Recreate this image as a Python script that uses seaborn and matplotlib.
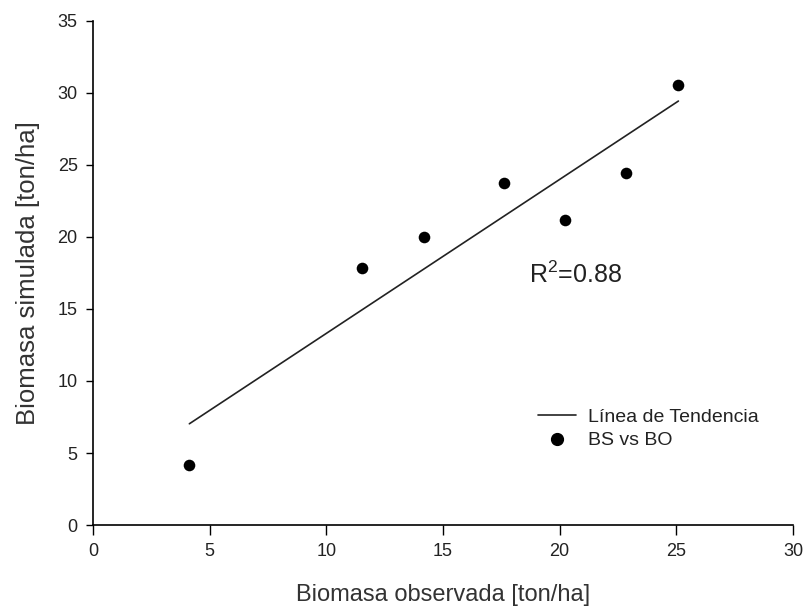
import numpy as np
import pandas as pd
import matplotlib
matplotlib.use("Agg")
import matplotlib.pyplot as plt
from matplotlib.lines import Line2D
import seaborn as sns

# Data
biomasa_observada = [4.13, 11.52, 14.20, 17.62, 20.24, 22.85, 25.09]
biomasa_simulada = [4.15, 17.87, 20.02, 23.73, 21.18, 24.44, 30.56]
r2_text = "R$^2$=0.88"
x_ticks = [0, 5, 10, 15, 20, 25, 30]
y_ticks = [0, 5, 10, 15, 20, 25, 30, 35]

df = pd.DataFrame({"obs": biomasa_observada, "sim": biomasa_simulada})

sns.set_theme(style="ticks")
plt.rcParams["font.family"] = ["Liberation Sans", "DejaVu Sans"]
plt.rcParams["mathtext.fontset"] = "custom"
plt.rcParams["mathtext.rm"] = "Liberation Sans"

fig = plt.figure(figsize=(8.08, 6.08), dpi=100)
ax = fig.add_axes([0.1151, 0.1365, 0.8663, 0.829])

sns.regplot(data=df, x="obs", y="sim", ax=ax, scatter=False, ci=None,
            truncate=True, line_kws={"color": "#222222", "lw": 1.2})
sns.scatterplot(data=df, x="obs", y="sim", ax=ax, color="black", s=70,
                edgecolor="black", linewidth=0, zorder=3)

ax.set_xlim(0, 30)
ax.set_ylim(0, 35)
ax.set_xticks(x_ticks)
ax.set_yticks(y_ticks)
ax.tick_params(axis="both", direction="out", width=1, color="black",
               labelsize=13, labelcolor="#222222")
ax.tick_params(axis="x", length=7, pad=6)
ax.tick_params(axis="y", length=5, pad=6)
for s in ["top", "right"]:
    ax.spines[s].set_visible(False)
for s in ["left", "bottom"]:
    ax.spines[s].set_color("black")
    ax.spines[s].set_linewidth(1.2)

ax.set_xlabel("Biomasa observada [ton/ha]", fontsize=17, color="#333333", labelpad=17)
ax.set_ylabel("Biomasa simulada [ton/ha]", fontsize=18.5, color="#333333", labelpad=13)

ax.text(20.66, 17.36, r2_text, fontsize=18, color="#222222", ha="center", va="center")

handles = [Line2D([0], [0], color="#222222", lw=1.2),
           Line2D([0], [0], marker="o", color="black", linestyle="none", markersize=8.5)]
ax.legend(handles, ["Línea de Tendencia", "BS vs BO"], loc="upper left",
          bbox_to_anchor=(0.624, 0.247), frameon=False, fontsize=14,
          handlelength=2.0, labelspacing=0.3, handletextpad=0.6,
          labelcolor="#222222", borderaxespad=0)

fig.savefig("out.png", dpi=100, facecolor="white")
